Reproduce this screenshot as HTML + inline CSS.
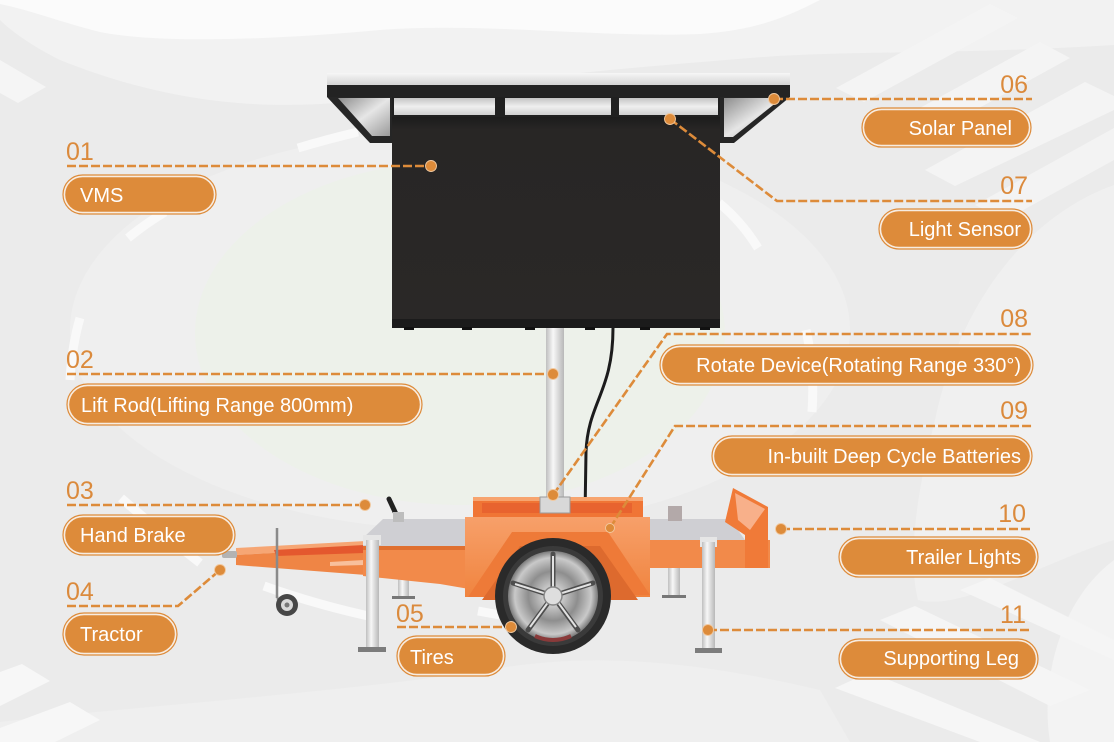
<!DOCTYPE html>
<html><head><meta charset="utf-8">
<style>
html,body{margin:0;padding:0;background:#ebebeb;}
svg{display:block}
text{font-family:"Liberation Sans",sans-serif;}
</style></head>
<body>
<svg width="1114" height="742" viewBox="0 0 1114 742" xmlns="http://www.w3.org/2000/svg">
<defs>
 <linearGradient id="strip" x1="0" y1="0" x2="0" y2="1"><stop offset="0" stop-color="#f6f6f6"/><stop offset="1" stop-color="#d4d4d4"/></linearGradient>
 <linearGradient id="cell" x1="0" y1="0" x2="0" y2="1"><stop offset="0" stop-color="#c4c4c4"/><stop offset="0.5" stop-color="#efefef"/><stop offset="1" stop-color="#cfcfcf"/></linearGradient>
 <linearGradient id="glass" x1="0" y1="0" x2="1" y2="1"><stop offset="0" stop-color="#8d8d8d"/><stop offset=".5" stop-color="#e6e6e6"/><stop offset="1" stop-color="#9a9a9a"/></linearGradient>
 <linearGradient id="pole" x1="0" y1="0" x2="1" y2="0"><stop offset="0" stop-color="#bfbfbf"/><stop offset=".4" stop-color="#f7f7f7"/><stop offset="1" stop-color="#b8b8b8"/></linearGradient>
 <linearGradient id="screen" x1="0" y1="0" x2="0" y2="1"><stop offset="0" stop-color="#1c1c1c"/><stop offset=".06" stop-color="#282625"/><stop offset="1" stop-color="#2a2827"/></linearGradient>
 <radialGradient id="rim"><stop offset="0" stop-color="#f0f0f0"/><stop offset=".55" stop-color="#8e8e8e"/><stop offset=".85" stop-color="#c9c9c9"/><stop offset="1" stop-color="#7a7a7a"/></radialGradient>
 <linearGradient id="box" x1="0" y1="0" x2="0" y2="1"><stop offset="0" stop-color="#f7a06a"/><stop offset="1" stop-color="#f0843f"/></linearGradient>
</defs>

<!-- background -->
<rect width="1114" height="742" fill="#ebebeb"/>
<path d="M0,0 H1114 V45 C950,55 850,50 750,58 C600,70 500,80 380,98 C260,115 160,100 60,60 C30,45 10,30 0,20 Z" fill="#f2f2f2"/>
<path d="M0,0 H820 C790,15 760,30 700,34 C600,38 480,22 380,30 C250,42 150,42 100,32 C60,22 30,10 0,4 Z" fill="#fbfbfb"/>
<polygon points="0,60 46,87 18,103 0,93" fill="#f5f5f5"/>
<!-- top right crosswalk -->
<polygon points="836,88 990,4 1018,18 864,102" fill="#f4f4f4"/>
<polygon points="880,130 1040,42 1070,58 910,146" fill="#f4f4f4"/>
<polygon points="925,170 1085,82 1114,96 1114,110 955,186" fill="#f4f4f4"/>
<polygon points="975,205 1114,128 1114,160 1005,220" fill="#f3f3f3"/>
<!-- right lighter region -->
<path d="M1114,185 C1030,215 960,300 935,420 C915,500 908,560 918,600 C960,612 1050,560 1114,540 Z" fill="#f0f0f0"/>
<path d="M1114,560 C1060,600 1040,680 1050,742 H1114 Z" fill="#f3f3f3"/>
<!-- bottom lighter band -->
<path d="M0,742 L0,722 C150,705 350,692 500,668 C600,652 700,662 820,690 L850,742 Z" fill="#efefef"/>
<polygon points="0,672 22,664 50,681 0,706" fill="#f7f7f7"/>
<polygon points="0,728 70,702 100,720 55,742 0,742" fill="#f7f7f7"/>
<!-- bottom right crosswalk -->
<polygon points="835,688 870,672 1040,742 980,742" fill="#f6f6f6"/>
<polygon points="880,620 915,606 1090,690 1050,706" fill="#f5f5f5"/>
<polygon points="960,590 990,578 1114,640 1114,660" fill="#f5f5f5"/>

<!-- center ellipses -->
<ellipse cx="460" cy="330" rx="390" ry="200" fill="#efefef"/>
<ellipse cx="460" cy="333" rx="265" ry="172" fill="#edf1ea"/>

<!-- road arc marks -->
<g stroke="#f9f9f9" stroke-width="9" fill="none">
 <path d="M298,148 Q328,139 358,132"/>
 <path d="M128,238 Q145,224 165,212"/>
 <path d="M80,318 Q72,345 70,380"/>
 <path d="M121,498 Q160,532 200,563"/>
 <path d="M264,586 Q320,606 378,618"/>
 <path d="M478,611 L500,615"/>
 <path d="M719,203 Q742,222 758,248"/>
 <path d="M806,330 Q815,370 812,412"/>
</g>

<!-- solar panel -->
<rect x="327" y="73" width="463" height="12" fill="url(#strip)"/>
<rect x="327" y="85" width="463" height="12" fill="#232323"/>
<polygon points="327,97 392,97 392,143 370,143" fill="#262626"/>
<polygon points="338,98 390,98 390,136 372,136" fill="url(#glass)"/>
<polygon points="720,97 790,97 734,143 720,143" fill="#262626"/>
<polygon points="724,98 782,98 733,137 724,137" fill="url(#glass)"/>
<rect x="392" y="97" width="328" height="22" fill="#202020"/>
<rect x="394" y="98" width="101" height="17" fill="url(#cell)"/>
<rect x="505" y="98" width="106" height="17" fill="url(#cell)"/>
<rect x="619" y="98" width="99" height="17" fill="url(#cell)"/>

<!-- VMS screen -->
<rect x="392" y="117" width="328" height="211" fill="url(#screen)"/>
<rect x="392" y="319" width="328" height="9" fill="#1b1b1b"/>
<g fill="#111">
 <rect x="404" y="327" width="10" height="3"/><rect x="462" y="327" width="10" height="3"/>
 <rect x="525" y="327" width="10" height="3"/><rect x="585" y="327" width="10" height="3"/>
 <rect x="640" y="327" width="10" height="3"/><rect x="700" y="327" width="10" height="3"/>
</g>

<!-- pole & cable -->
<rect x="546" y="328" width="18" height="172" fill="url(#pole)"/>
<path d="M613,328 C613,392 588,402 586,452 L585,516" stroke="#1c1c1c" stroke-width="3" fill="none"/>

<!-- drawbar -->
<polygon points="236,548 366,541 366,548 236,555" fill="#f6a674"/>
<polygon points="236,555 366,548 366,575 236,565" fill="#ef8545"/>
<polygon points="274,550 364,545 364,553 276,556" fill="#e4582e"/>
<polygon points="330,562 364,560 364,565 330,566" fill="#f8c09c"/>
<rect x="222" y="551" width="15" height="7" rx="2" fill="#b3b3b3"/>
<!-- jockey wheel -->
<line x1="277" y1="528" x2="277" y2="598" stroke="#8a8a8a" stroke-width="2.5"/>
<line x1="277" y1="598" x2="286" y2="605" stroke="#8a8a8a" stroke-width="2.5"/>
<circle cx="287" cy="605" r="11" fill="#474747"/>
<circle cx="287" cy="605" r="6" fill="#d9d9d9"/>
<circle cx="287" cy="605" r="2.5" fill="#777"/>

<!-- inner legs (behind) -->
<rect x="398" y="568" width="11" height="30" fill="url(#pole)"/>
<rect x="392" y="596" width="23" height="3" fill="#777"/>
<rect x="668" y="565" width="12" height="32" fill="url(#pole)"/>
<rect x="662" y="595" width="24" height="3" fill="#777"/>

<!-- left deck -->
<polygon points="383,519 475,519 475,546 363,546 363,538" fill="#cfcfd3"/>
<polygon points="363,546 475,546 475,590 440,584 363,576" fill="#f28a4a"/>
<rect x="363" y="546" width="112" height="4" fill="#e07030"/>

<!-- battery box -->
<rect x="473" y="497" width="170" height="22" fill="#f07535"/>
<rect x="473" y="497" width="170" height="4" fill="#f7a46f"/>
<rect x="482" y="503" width="150" height="10" fill="#e8632f"/>
<rect x="465" y="517" width="185" height="80" fill="url(#box)"/>
<polygon points="468,597 512,532 608,532 650,595" fill="#ee7a38"/>
<polygon points="482,600 520,546 600,546 638,600" fill="#dd6a2e"/>
<rect x="540" y="497" width="30" height="16" fill="#d8d8d8" stroke="#9a9a9a" stroke-width="1"/>

<!-- right deck -->
<polygon points="650,519 730,519 745,540 650,540" fill="#cfcfd3"/>
<rect x="650" y="540" width="120" height="28" fill="#f28a4a"/>
<polygon points="725,522 733,488 768,507 768,568 745,568 745,535" fill="#f07a38"/>
<polygon points="735,493 765,509 750,530 738,520" fill="#f8b08a"/>
<rect x="668" y="506" width="14" height="15" fill="#b3a9a9"/>

<!-- hand brake -->
<line x1="389" y1="499" x2="396" y2="514" stroke="#222" stroke-width="5" stroke-linecap="round"/>
<rect x="393" y="512" width="11" height="10" fill="#bdbdbd"/>

<!-- outer legs -->
<rect x="363" y="535" width="18" height="10" fill="#e6e6e6"/>
<rect x="366" y="540" width="13" height="108" fill="url(#pole)"/>
<rect x="358" y="647" width="28" height="5" fill="#7c7c7c"/>
<rect x="700" y="537" width="17" height="10" fill="#e6e6e6"/>
<rect x="702" y="542" width="13" height="107" fill="url(#pole)"/>
<rect x="695" y="648" width="27" height="5" fill="#7c7c7c"/>

<!-- wheel -->
<circle cx="553" cy="596" r="58" fill="#2a2a2a"/>
<circle cx="553" cy="596" r="50" fill="#3a3a3a"/>
<circle cx="553" cy="596" r="45" fill="url(#rim)"/>
<g stroke="#4d4d4d" stroke-width="5" stroke-linecap="round">
 <line x1="553" y1="596" x2="553" y2="554"/>
 <line x1="553" y1="596" x2="593" y2="583"/>
 <line x1="553" y1="596" x2="578" y2="630"/>
 <line x1="553" y1="596" x2="528" y2="630"/>
 <line x1="553" y1="596" x2="513" y2="583"/>
</g>
<g stroke="#e2e2e2" stroke-width="2">
 <line x1="553" y1="590" x2="553" y2="556"/>
 <line x1="559" y1="594" x2="591" y2="584"/>
 <line x1="557" y1="601" x2="576" y2="627"/>
 <line x1="549" y1="601" x2="530" y2="627"/>
 <line x1="547" y1="594" x2="515" y2="584"/>
</g>
<circle cx="553" cy="596" r="9" fill="#dedede" stroke="#888" stroke-width="1.5"/>
<path d="M535,636 Q553,644 571,636" stroke="#8a3a3a" stroke-width="4" fill="none"/>

<!-- connector lines -->
<g stroke="#dd8b3a" stroke-width="2.6" stroke-dasharray="9 3" fill="none">
 <path d="M67,166 H431"/>
 <path d="M67,374 H553"/>
 <path d="M67,505 H365"/>
 <path d="M67,606 H178 L220,570"/>
 <path d="M397,627 H511"/>
 <path d="M774,99 H1032"/>
 <path d="M670,119 L777,201 H1032"/>
 <path d="M553,495 L667,334 H1032"/>
 <path d="M610,528 L675,426 H1032"/>
 <path d="M781,529 H1032"/>
 <path d="M708,630 H1032"/>
</g>
<g fill="#dd8b3a" stroke="#f1c9a0" stroke-width="0.9">
 <circle cx="431" cy="166" r="5.5"/>
 <circle cx="553" cy="374" r="5.5"/>
 <circle cx="365" cy="505" r="5.5"/>
 <circle cx="220" cy="570" r="5.5"/>
 <circle cx="511" cy="627" r="5.5"/>
 <circle cx="774" cy="99" r="5.5"/>
 <circle cx="670" cy="119" r="5.5"/>
 <circle cx="553" cy="495" r="5.5"/>
 <circle cx="610" cy="528" r="4.5"/>
 <circle cx="781" cy="529" r="5.5"/>
 <circle cx="708" cy="630" r="5.5"/>
</g>

<!-- pills -->
<g stroke="#dd8b3a" stroke-width="1.2" fill="#f7ece1">
 <rect x="63" y="175" width="153" height="39" rx="19.5"/>
 <rect x="67" y="384" width="355" height="41" rx="20.5"/>
 <rect x="63" y="515" width="172" height="40" rx="20"/>
 <rect x="63" y="613" width="114" height="42" rx="21"/>
 <rect x="397" y="636" width="108" height="40" rx="20"/>
 <rect x="862" y="108" width="169" height="39" rx="19.5"/>
 <rect x="879" y="209" width="153" height="40" rx="20"/>
 <rect x="660" y="345" width="373" height="40" rx="20"/>
 <rect x="712" y="436" width="320" height="40" rx="20"/>
 <rect x="839" y="537" width="199" height="40" rx="20"/>
 <rect x="839" y="639" width="199" height="40" rx="20"/>
</g>
<g fill="#dd8b3a">
 <rect x="65.2" y="177.2" width="148.6" height="34.6" rx="17.3"/>
 <rect x="69.2" y="386.2" width="350.6" height="36.6" rx="18.3"/>
 <rect x="65.2" y="517.2" width="167.6" height="35.6" rx="17.8"/>
 <rect x="65.2" y="615.2" width="109.6" height="37.6" rx="18.8"/>
 <rect x="399.2" y="638.2" width="103.6" height="35.6" rx="17.8"/>
 <rect x="864.2" y="110.2" width="164.6" height="34.6" rx="17.3"/>
 <rect x="881.2" y="211.2" width="148.6" height="35.6" rx="17.8"/>
 <rect x="662.2" y="347.2" width="368.6" height="35.6" rx="17.8"/>
 <rect x="714.2" y="438.2" width="315.6" height="35.6" rx="17.8"/>
 <rect x="841.2" y="539.2" width="194.6" height="35.6" rx="17.8"/>
 <rect x="841.2" y="641.2" width="194.6" height="35.6" rx="17.8"/>
</g>

<!-- pill texts -->
<g fill="#ffffff" font-size="20">
 <text x="80" y="202">VMS</text>
 <text x="81" y="412">Lift Rod(Lifting Range 800mm)</text>
 <text x="80" y="542">Hand Brake</text>
 <text x="80" y="641">Tractor</text>
 <text x="410" y="664">Tires</text>
 <text x="1012" y="135" text-anchor="end">Solar Panel</text>
 <text x="1021" y="236" text-anchor="end">Light Sensor</text>
 <text x="1021" y="372" text-anchor="end">Rotate Device(Rotating Range 330°)</text>
 <text x="1021" y="463" text-anchor="end">In-built Deep Cycle Batteries</text>
 <text x="1021" y="564" text-anchor="end">Trailer Lights</text>
 <text x="1019" y="665" text-anchor="end">Supporting Leg</text>
</g>

<!-- numbers -->
<g fill="#db8a3c" font-size="25">
 <text x="66" y="160">01</text>
 <text x="66" y="368">02</text>
 <text x="66" y="499">03</text>
 <text x="66" y="600">04</text>
 <text x="396" y="622">05</text>
 <text x="1028" y="93" text-anchor="end">06</text>
 <text x="1028" y="194" text-anchor="end">07</text>
 <text x="1028" y="327" text-anchor="end">08</text>
 <text x="1028" y="419" text-anchor="end">09</text>
 <text x="1026" y="522" text-anchor="end">10</text>
 <text x="1026" y="623" text-anchor="end">11</text>
</g>
</svg>
</body></html>
